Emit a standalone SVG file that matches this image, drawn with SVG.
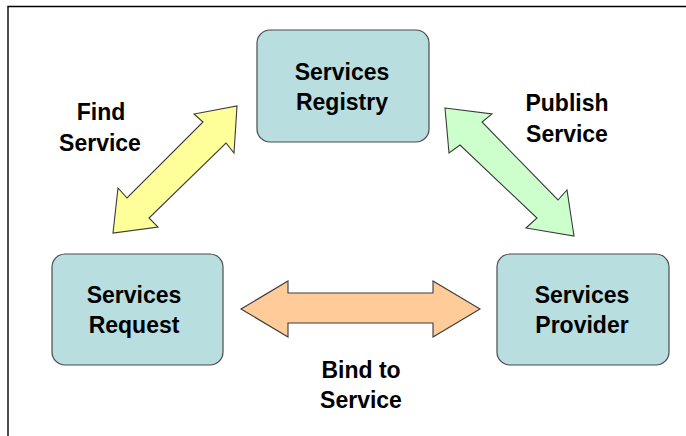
<svg xmlns="http://www.w3.org/2000/svg" width="686" height="436" viewBox="0 0 686 436">
  <style>
    .box { fill: #b8dee0; stroke: #4a4a4a; stroke-width: 1.2; }
    .txt { font-family: "Liberation Sans", Arial, sans-serif; font-weight: bold; font-size: 23px; fill: #000; text-anchor: middle; }
    .arrow { stroke: #3a3a3a; stroke-width: 1.1; stroke-linejoin: miter; }
  </style>
  <rect width="686" height="436" fill="#ffffff"/>
  <path d="M8,436 V6.5 H686" fill="none" stroke="#000" stroke-width="1.4"/>

  <g id="connectors">
    <polygon class="arrow" fill="#ffff99" points="237,106 234,153 226,143 149,218 158,227 113,233 118,188 127,198 203,122 194,114"/>
    <polygon class="arrow" fill="#ccffcc" points="445,108 492,114 482,122 558,200 567,190 574,236 526,228 537,218 460,145 449,153"/>
    <polygon class="arrow" fill="#ffcc99" points="241,309 288,281 288,293 433,293 433,281 480,309 433,337 433,323 288,323 288,337"/>
  </g>

  <g id="label-find">
    <text class="txt" x="101" y="120">Find</text>
    <text class="txt" x="100" y="151">Service</text>
  </g>
  <g id="label-publish">
    <text class="txt" x="567" y="111">Publish</text>
    <text class="txt" x="567" y="142">Service</text>
  </g>
  <g id="label-bind">
    <text class="txt" x="361" y="378">Bind to</text>
    <text class="txt" x="361" y="408">Service</text>
  </g>

  <g id="node-registry">
    <rect class="box" x="257" y="30" width="172" height="112" rx="13" ry="13"/>
    <text class="txt" x="342" y="80">Services</text>
    <text class="txt" x="342" y="110">Registry</text>
  </g>
  <g id="node-request">
    <rect class="box" x="52" y="254" width="171" height="111" rx="13" ry="13"/>
    <text class="txt" x="134" y="303">Services</text>
    <text class="txt" x="134" y="333">Request</text>
  </g>
  <g id="node-provider">
    <rect class="box" x="497" y="254" width="172" height="111" rx="13" ry="13"/>
    <text class="txt" x="582" y="303">Services</text>
    <text class="txt" x="582" y="333">Provider</text>
  </g>
</svg>
